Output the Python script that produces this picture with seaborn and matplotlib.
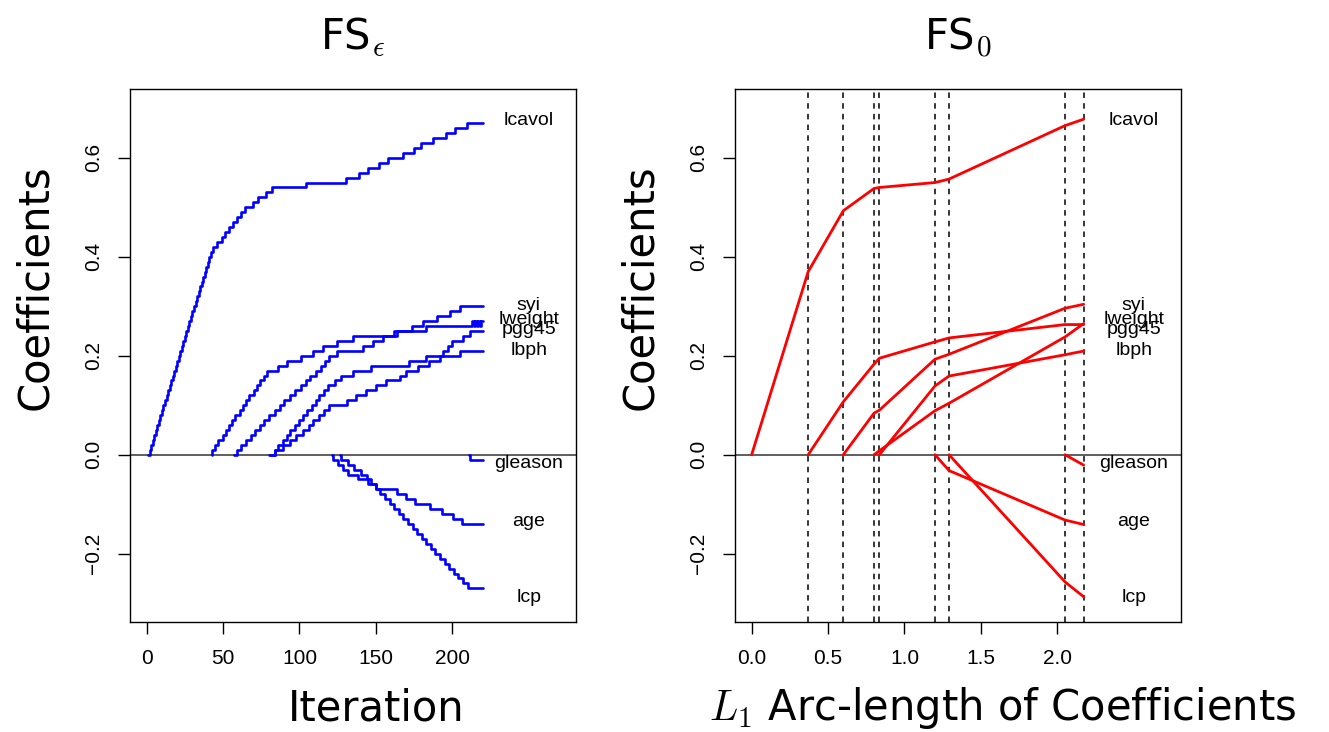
import matplotlib
matplotlib.use("Agg")
import matplotlib.pyplot as plt
import numpy as np
import pandas as pd
import seaborn as sns

# ---------------- data: FS_epsilon (left panel), step paths ----------------
lcavol_eps_it = [1, 2, 3, 4, 5, 6, 7, 8, 9, 10, 11, 12, 13, 14, 15, 16, 17, 18, 19, 20,
                 21, 22, 23, 24, 25, 26, 27, 28, 29, 30, 31, 32, 33, 34, 35, 36, 37, 38, 39, 40,
                 41, 42, 43.6, 46.2, 49.1, 51.2, 54.1, 56.7, 59.3, 61.8, 64.3, 69.4, 73.0, 78.1,
                 81.8, 104, 130.4, 139.1, 145, 152.2, 158.1, 167.5, 174.9, 179.3, 187.2, 195.9,
                 201.8, 209.4, 220]
lcavol_eps_val = [0.00, 0.01, 0.02, 0.03, 0.04, 0.05, 0.06, 0.07, 0.08, 0.09, 0.10, 0.11, 0.12,
                  0.13, 0.14, 0.15, 0.16, 0.17, 0.18, 0.19, 0.20, 0.21, 0.22, 0.23, 0.24, 0.25,
                  0.26, 0.27, 0.28, 0.29, 0.30, 0.31, 0.32, 0.33, 0.34, 0.35, 0.36, 0.37, 0.38,
                  0.39, 0.40, 0.41, 0.42, 0.43, 0.44, 0.45, 0.46, 0.47, 0.48, 0.49, 0.50, 0.51,
                  0.52, 0.53, 0.54, 0.55, 0.56, 0.57, 0.58, 0.59, 0.60, 0.61, 0.62, 0.63, 0.64,
                  0.65, 0.66, 0.67, 0.67]

svi_eps_it = [42.5, 43, 45, 47, 50, 52, 54, 56, 58, 61, 63, 65, 67, 70, 72, 74, 77, 79, 86, 92,
              100.8, 108.6, 115.6, 124.3, 134.8, 164, 173.4, 181, 189.8, 198.5, 205, 220]
svi_eps_val = [0.00, 0.01, 0.02, 0.03, 0.04, 0.05, 0.06, 0.07, 0.08, 0.09, 0.10, 0.11, 0.12,
               0.13, 0.14, 0.15, 0.16, 0.17, 0.18, 0.19, 0.20, 0.21, 0.22, 0.23, 0.24, 0.25,
               0.26, 0.27, 0.28, 0.29, 0.30, 0.30]

lweight_eps_it = [57, 59, 62, 65, 68, 71, 74, 77, 80, 84, 87, 90, 94, 97, 101, 104, 107, 111,
                  114, 117, 119.5, 124.3, 141.8, 148.3, 154.8, 162, 183.1, 213, 214, 215, 216,
                  217, 218, 219, 220]
lweight_eps_val = [0.00, 0.01, 0.02, 0.03, 0.04, 0.05, 0.06, 0.07, 0.08, 0.09, 0.10, 0.11, 0.12,
                   0.13, 0.14, 0.15, 0.16, 0.17, 0.18, 0.19, 0.20, 0.21, 0.22, 0.23, 0.24, 0.25,
                   0.26, 0.27, 0.26, 0.27, 0.26, 0.27, 0.26, 0.27, 0.27]

pgg45_eps_it = [81.7, 84, 86, 89, 92, 94, 97, 100, 102, 105, 108, 111, 113, 116, 119, 123, 127,
                134.8, 147, 172, 183, 194, 197, 200, 207, 211.4, 220]
pgg45_eps_val = [0.00, 0.01, 0.02, 0.03, 0.04, 0.05, 0.06, 0.07, 0.08, 0.09, 0.10, 0.11, 0.12,
                 0.13, 0.14, 0.15, 0.16, 0.17, 0.18, 0.19, 0.20, 0.21, 0.22, 0.23, 0.24, 0.25,
                 0.25]

lbph_eps_it = [80, 84, 89.5, 93.9, 98, 102.5, 106, 109, 113, 116, 119.5, 131, 137.3, 143.8,
               150.4, 156.9, 165.6, 170, 177.8, 185, 192, 205, 220]
lbph_eps_val = [0.00, 0.01, 0.02, 0.03, 0.04, 0.05, 0.06, 0.07, 0.08, 0.09, 0.10, 0.11, 0.12,
                0.13, 0.14, 0.15, 0.16, 0.17, 0.18, 0.19, 0.20, 0.21, 0.21]

age_eps_it = [121, 122.1, 125.4, 128.6, 131.9, 138.4, 145, 150.4, 163.6, 169.7, 175.6, 185.4,
              193, 200.3, 206.2, 220]
age_eps_val = [0.00, -0.01, -0.02, -0.03, -0.04, -0.05, -0.06, -0.07, -0.08, -0.09, -0.10,
               -0.11, -0.12, -0.13, -0.14, -0.14]

lcp_eps_it = [126.5, 127.4, 132, 136, 140, 144, 147, 150, 153, 156, 159, 162, 165, 168, 171,
              174, 177, 180, 183, 186, 189, 192, 195, 198, 201, 204, 207, 210.5, 220]
lcp_eps_val = [0.00, -0.01, -0.02, -0.03, -0.04, -0.05, -0.06, -0.07, -0.08, -0.09, -0.10,
               -0.11, -0.12, -0.13, -0.14, -0.15, -0.16, -0.17, -0.18, -0.19, -0.20, -0.21,
               -0.22, -0.23, -0.24, -0.25, -0.26, -0.27, -0.27]

gleason_eps_it = [211, 211.4, 220]
gleason_eps_val = [0.00, -0.01, -0.01]

# ---------------- data: FS_0 (right panel), piecewise linear ----------------
knots = [0.0, 0.370, 0.600, 0.801, 0.836, 1.200, 1.292, 2.051, 2.173]
lcavol_0 = [0.0, 0.370, 0.493, 0.538, 0.540, 0.550, 0.557, 0.665, 0.678]
lweight_0 = [0.0, 0.107, 0.183, 0.195, 0.228, 0.236, 0.263, 0.263]   # from knot 0.370
svi_0 = [0.0, 0.084, 0.090, 0.193, 0.203, 0.296, 0.304]              # from knot 0.600
pgg45_0 = [0.0, 0.008, 0.089, 0.104, 0.238, 0.265]                   # from knot 0.801
lbph_0 = [0.0, 0.139, 0.159, 0.202, 0.2095]                          # from knot 0.836
age_0 = [0.0, -0.032, -0.132, -0.141]                                # from knot 1.200
lcp_0 = [0.0, -0.257, -0.287]                                        # from knot 1.292
gleason_0 = [0.0, -0.021]                                            # from knot 2.051
dashed_knots = [0.370, 0.600, 0.801, 0.836, 1.200, 1.292, 2.051, 2.173]

# ---------------- end labels ----------------
label_names = ["lcavol", "syi", "lweight", "pgg45", "lbph", "gleason", "age", "lcp"]
label_y = [0.676, 0.302, 0.273, 0.254, 0.211, -0.017, -0.134, -0.288]
label_x_eps = 250
label_x_0 = 2.50

yticks = [-0.2, 0.0, 0.2, 0.4, 0.6]
yticklabels = ["\u22120.2", "0.0", "0.2", "0.4", "0.6"]
xticks_eps = [0, 50, 100, 150, 200]
xticks_0 = [0.0, 0.5, 1.0, 1.5, 2.0]
xticklabels_0 = ["0.0", "0.5", "1.0", "1.5", "2.0"]

# ---------------- long tables ----------------
eps_series = {
    "lcavol": (lcavol_eps_it, lcavol_eps_val),
    "svi": (svi_eps_it, svi_eps_val),
    "lweight": (lweight_eps_it, lweight_eps_val),
    "pgg45": (pgg45_eps_it, pgg45_eps_val),
    "lbph": (lbph_eps_it, lbph_eps_val),
    "age": (age_eps_it, age_eps_val),
    "lcp": (lcp_eps_it, lcp_eps_val),
    "gleason": (gleason_eps_it, gleason_eps_val),
}
df_eps = pd.concat(
    [pd.DataFrame({"iter": it, "coef": v, "var": k}) for k, (it, v) in eps_series.items()],
    ignore_index=True)

zero_series = {
    "lcavol": lcavol_0, "lweight": lweight_0, "svi": svi_0, "pgg45": pgg45_0,
    "lbph": lbph_0, "age": age_0, "lcp": lcp_0, "gleason": gleason_0,
}
df_0 = pd.concat(
    [pd.DataFrame({"arc": knots[len(knots) - len(v):], "coef": v, "var": k})
     for k, v in zero_series.items()],
    ignore_index=True)

# ---------------- style ----------------
sns.set_style("ticks")
plt.rcParams["font.family"] = ["Liberation Sans", "DejaVu Sans"]
plt.rcParams["mathtext.fontset"] = "cm"
for key in ("text.color", "axes.labelcolor", "xtick.color", "ytick.color",
            "xtick.labelcolor", "ytick.labelcolor", "axes.edgecolor"):
    plt.rcParams[key] = "black"

W, H = 1329, 732
fig = plt.figure(figsize=(W / 100, H / 100), dpi=100)
ax1 = fig.add_axes([130 / W, 110 / H, 446 / W, 533 / H])
ax2 = fig.add_axes([735 / W, 110 / H, 446 / W, 533 / H])

big = dict(fontsize=30, family=["DejaVu Sans"], color="black")

# left
sns.lineplot(data=df_eps, x="iter", y="coef", hue="var", units="var", estimator=None,
             palette={k: "#0000ff" for k in eps_series}, legend=False, sort=False,
             drawstyle="steps-post", lw=1.9, ax=ax1)
ax1.axhline(0, color="#333333", lw=1.1, zorder=1)
ax1.set_xlim(-10.9, 281)
ax1.set_ylim(-0.338, 0.739)
ax1.set_xticks(xticks_eps)
ax1.set_xticklabels([str(t) for t in xticks_eps])
for name, yv in zip(label_names, label_y):
    ax1.text(label_x_eps, yv, name, ha="center", va="center", fontsize=14, color="black")
ax1.set_title("FS$_\\epsilon$", pad=28, **big)
ax1.set_xlabel("Iteration", **big)
ax1.xaxis.set_label_coords(0.552, -0.162)

# right
sns.lineplot(data=df_0, x="arc", y="coef", hue="var", units="var", estimator=None,
             palette={k: "#ff0000" for k in zero_series}, legend=False, sort=False,
             lw=2.0, ax=ax2)
for k in dashed_knots:
    ax2.axvline(k, color="black", lw=1.1, ls=(0, (3.6, 3.4)), zorder=0)
ax2.axhline(0, color="#333333", lw=1.1, zorder=1)
ax2.set_xlim(-0.109, 2.81)
ax2.set_ylim(-0.338, 0.739)
ax2.set_xticks(xticks_0)
ax2.set_xticklabels(xticklabels_0)
for name, yv in zip(label_names, label_y):
    ax2.text(label_x_0, yv, name, ha="center", va="center", fontsize=14, color="black")
ax2.set_title("FS$_0$", pad=28, **big)
ax2.set_xlabel("$L_1$ Arc-length of Coefficients", **big)
ax2.xaxis.set_label_coords(0.601, -0.162)

for ax in (ax1, ax2):
    ax.set_yticks(yticks)
    ax.set_yticklabels(yticklabels)
    ax.tick_params(direction="out", length=8.6, width=1.0, color="black",
                   labelsize=15, pad=11, labelcolor="black")
    for lbl in ax.get_yticklabels():
        lbl.set_rotation(90)
        lbl.set_va("center")
    for sp in ax.spines.values():
        sp.set_visible(True)
        sp.set_color("black")
        sp.set_linewidth(1.0)
    ax.set_ylabel("Coefficients", **big)
    ax.yaxis.set_label_coords(-0.213, 0.629)
    ax.yaxis.label.set_va("center")
    ax.xaxis.label.set_va("center")

fig.savefig("out.png", dpi=100, facecolor="white")
